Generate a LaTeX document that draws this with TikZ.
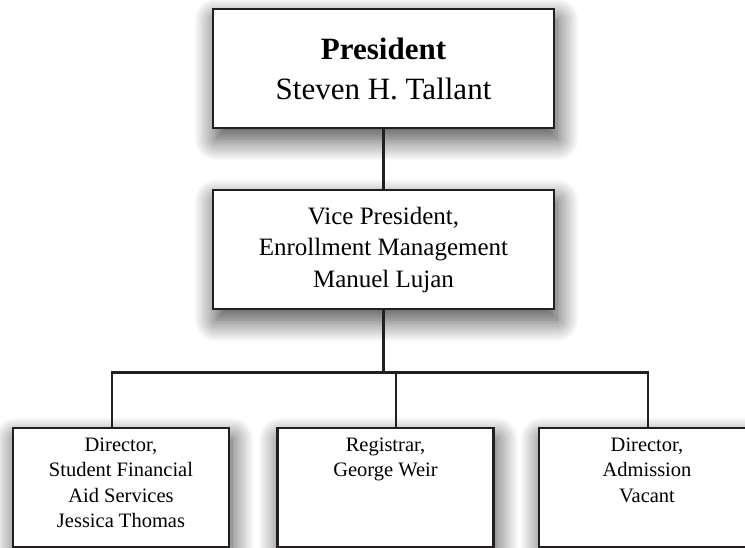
\documentclass[tikz,border=0pt]{standalone}
\usepackage{fontspec}
\setmainfont{Liberation Serif}
\usetikzlibrary{positioning,shadows.blur}
\definecolor{orgink}{RGB}{35,31,32}
\tikzset{
  orgbox/.style={draw=orgink,line width=2.6pt,fill=white,inner sep=0pt,
    minimum height=119pt,
    blur shadow={shadow xshift=3pt,shadow yshift=-11pt,shadow blur radius=22pt,
      shadow blur steps=20,shadow opacity=75}},
  smallbox/.style={orgbox,minimum width=216pt},
  boxtext/.style={align=center,inner sep=0pt,font=\fontsize{20.5}{25.5}\selectfont},
  orgwire/.style={draw=orgink,line width=2.5pt}
}

\begin{document}
\begin{tikzpicture}[x=1pt,y=-1pt]
\useasboundingbox (0,0) rectangle (745,548);
\node [orgbox,minimum width=341pt,align=center,font=\fontsize{31}{40}\selectfont] (pres) at (383.5,68.5)
{
\textbf{President}\\
Steven H. Tallant
};
\node [orgbox,minimum width=341pt,align=center,font=\fontsize{25}{31.5}\selectfont] (vp) at (383.5,249.5)
{
Vice President,\\
Enrollment Management\\
Manuel Lujan
};
\node [smallbox] (aid) at (121,487.5) {};
\node [smallbox] (reg) at (385.5,487.5) {};
\node [smallbox] (adm) at (647,487.5) {};
\node [boxtext,below=11pt of aid.north] (aidtext)
{
Director,\\
Student Financial\\
Aid Services\\
Jessica Thomas
};
\node [boxtext,below=11pt of reg.north] (regtext)
{
Registrar,\\
George Weir
};
\node [boxtext,below=11pt of adm.north] (admtext)
{
Director,\\
Admission\\
Vacant
};
\coordinate (bus) at (383.5,374);
\draw [orgwire] (pres.south) -- (vp.north);
\draw [orgwire] (vp.south) -- (bus);
\draw [orgwire] ([xshift=-9pt]aid.north) -- ++(0,-54) -| ([xshift=1pt]adm.north);
\draw [orgwire] ([xshift=10.5pt]reg.north) -- ++(0,-54);
\end{tikzpicture}
\end{document}
